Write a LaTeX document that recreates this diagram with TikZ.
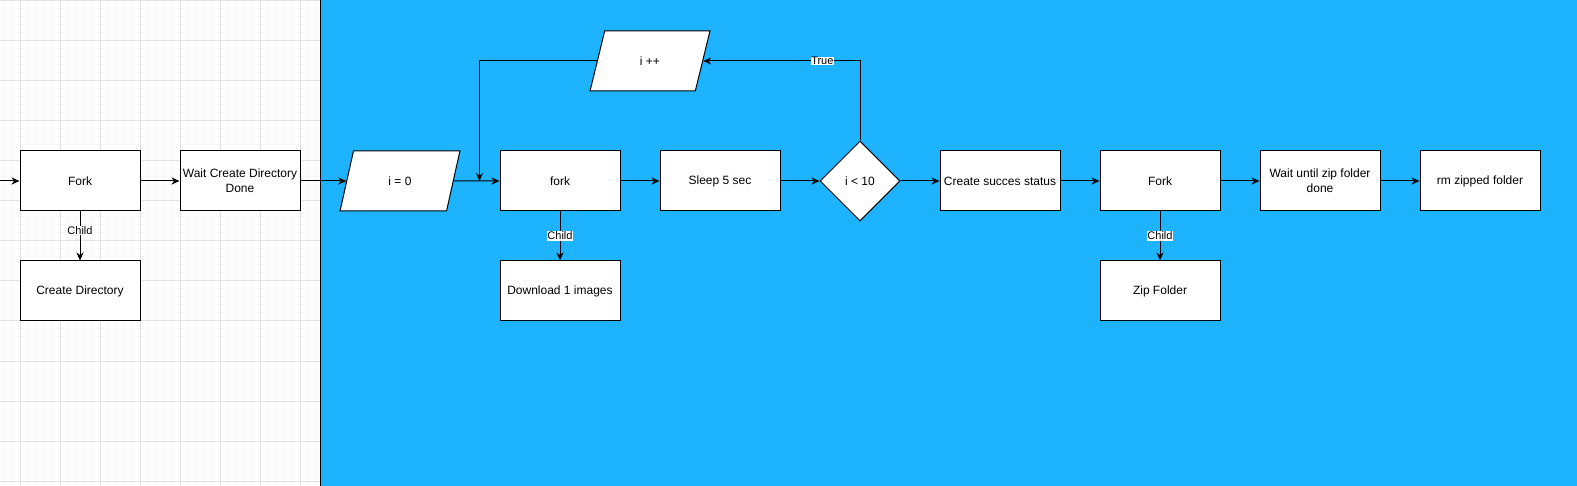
\documentclass[tikz,border=0pt]{standalone}
\usepackage{fontspec}
\setmainfont{Liberation Sans}
\usetikzlibrary{shapes,arrows.meta,positioning}
\definecolor{bgblue}{RGB}{30,179,255}
\definecolor{gridmajor}{RGB}{226,226,226}
\definecolor{gridminor}{RGB}{247,247,247}
\tikzstyle{block}    = [draw, fill=white, line width=1pt, minimum width=120pt, minimum height=60pt, inner sep=1pt, align=center, font=\fontsize{12}{15}\selectfont]
\tikzstyle{io}       = [draw, fill=white, line width=1pt, trapezium, trapezium left angle=71.57, trapezium right angle=108.43, trapezium stretches=true, minimum width=120pt, minimum height=60pt, inner sep=1pt, font=\fontsize{12}{15}\selectfont]
\tikzstyle{decision} = [draw, fill=white, line width=1pt, diamond, minimum width=80pt, minimum height=80pt, inner sep=0pt, font=\fontsize{12}{15}\selectfont]
\tikzstyle{line}     = [draw, line width=1pt, -{Stealth[length=8pt,width=7pt,inset=2.5pt]}]
\tikzstyle{lbl}      = [fill=white, inner sep=0.5pt, font=\fontsize{11}{13}\selectfont]

\begin{document}
\begin{tikzpicture}[x=1pt, y=1pt, node distance=160pt]
	% Background %
	\useasboundingbox (0,0) rectangle (1577,-486);
	\fill[white] (0,0) rectangle (320,-486);
	\foreach \x in {4,12,...,316} \draw[gridminor, line width=1pt] (\x,0) -- (\x,-486);
	\foreach \y in {1,9,...,481} \draw[gridminor, line width=1pt] (0,-\y) -- (320,-\y);
	\foreach \x in {20,60,...,300} \draw[gridmajor, line width=1pt] (\x,0) -- (\x,-486);
	\foreach \y in {1,41,...,481} \draw[gridmajor, line width=1pt] (0,-\y) -- (320,-\y);
	\fill[bgblue] (320,0) rectangle (1577,-486);
	\draw[line width=1pt] (320,0) -- (320,-486);
	% Node Setting %
	\node [block] (fork1) at (80,-181) {Fork};
	\node [block, below of = fork1, node distance=110pt] (mkdir) {Create Directory};
	\node [block, right of = fork1] (waitdir) {Wait Create Directory\\Done};
	\node [io, right of = waitdir] (init) {i = 0};
	\node [block, right of = init] (fork2) {fork};
	\node [block, below of = fork2, node distance=110pt] (download) {Download 1 images};
	\node [block, right of = fork2] (sleep) {Sleep 5 sec};
	\node [decision, right of = sleep, xshift=-20pt] (cond) {i < 10};
	\node [block, right of = cond, xshift=-20pt] (status) {Create succes status};
	\node [block, right of = status] (fork3) {Fork};
	\node [block, below of = fork3, node distance=110pt] (zip) {Zip Folder};
	\node [block, right of = fork3] (waitzip) {Wait until zip folder\\done};
	\node [block, right of = waitzip] (rmzip) {rm zipped folder};
	\node [io, above of = sleep, node distance=120pt, xshift=-70pt] (inc) {i ++};
	\coordinate (start) at (0,-181);
	\coordinate (merge) at ([xshift=-20pt]fork2.west);
	% Connection %
	\path [line] (start) -- (fork1);
	\path [line] (fork1) -- node[lbl, pos=0.38] {Child} (mkdir);
	\path [line] (fork1) -- (waitdir);
	\path [line] (waitdir) -- (init);
	\path [line] (init) -- (fork2);
	\path [line] (fork2) -- node[lbl] {Child} (download);
	\path [line] (fork2) -- (sleep);
	\path [line] (sleep) -- (cond);
	\path [line] (cond.north) |- node[lbl, pos=0.62] {True} (inc.east);
	\path [line] (inc.west) -| (merge);
	\path [line] (cond) -- (status);
	\path [line] (status) -- (fork3);
	\path [line] (fork3) -- node[lbl] {Child} (zip);
	\path [line] (fork3) -- (waitzip);
	\path [line] (waitzip) -- (rmzip);
\end{tikzpicture}
\end{document}
